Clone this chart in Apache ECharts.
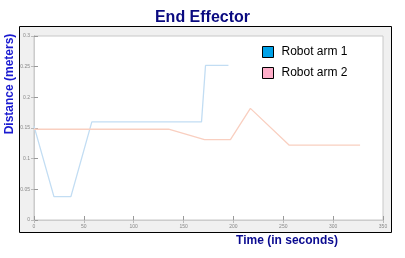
<!DOCTYPE html>
<html><head><meta charset="utf-8">
<script src="https://cdn.jsdelivr.net/npm/echarts@6/dist/echarts.min.js"></script>
<style>html,body{margin:0;padding:0;background:#fff}#c{width:405px;height:258px}</style>
</head><body><div id="c"></div>
<script>
const seriesNames = ['Robot arm 1', 'Robot arm 2'];
const arm1Time = [0, 20, 37, 58, 168, 172, 195];
const arm1Dist = [0.153, 0.038, 0.038, 0.160, 0.160, 0.252, 0.252];
const arm2Time = [0, 135, 171, 197, 217, 256, 327];
const arm2Dist = [0.148, 0.148, 0.131, 0.131, 0.182, 0.122, 0.122];
const xTicks = [0, 50, 100, 150, 200, 250, 300, 350];
const yTicks = [0, 0.05, 0.1, 0.15, 0.2, 0.25, 0.3];

const pairs = (xs, ys) => xs.map((x, i) => [x, ys[i]]);
const chart = echarts.init(document.getElementById('c'), null, {renderer: 'canvas'});
const font = 'Liberation Sans, Arial, sans-serif';
const tickLab = {fontSize: 5, color: '#888', fontFamily: font};
chart.setOption({
  animation: false,
  backgroundColor: '#fff',
  title: {text: 'End Effector', left: 'center', top: 5,
    textStyle: {fontSize: 16, fontWeight: 'bold', color: '#0a0a80', fontFamily: font}},
  graphic: [
    {type: 'rect', z: -10, shape: {x: 19.5, y: 26.5, width: 372, height: 206},
      style: {fill: '#f0f0f0', stroke: '#000', lineWidth: 1}},
    {type: 'text', x: 10, y: 84, rotation: Math.PI / 2,
      style: {text: 'Distance (meters)', fill: '#1a1ad0', font: 'bold 12px ' + font,
        align: 'center', verticalAlign: 'middle'}},
    {type: 'text', x: 287, y: 241,
      style: {text: 'Time (in seconds)', fill: '#0a0a90', font: 'bold 12px ' + font,
        align: 'center', verticalAlign: 'middle'}}
  ],
  legend: {
    orient: 'vertical', left: 262, top: 46, padding: 0, itemGap: 9, itemWidth: 11, itemHeight: 11,
    icon: 'rect',
    textStyle: {fontSize: 12, color: '#000', fontFamily: font, padding: [0, 0, 0, 3]},
    data: [
      {name: seriesNames[0], itemStyle: {color: '#00a2e8', borderColor: '#000', borderWidth: 1}},
      {name: seriesNames[1], itemStyle: {color: '#ffaec9', borderColor: '#000', borderWidth: 1}}
    ]
  },
  grid: {left: 34, right: 22, top: 36, bottom: 38, show: true, backgroundColor: '#fff',
    borderColor: '#c8c8c8', borderWidth: 1},
  xAxis: [
    {type: 'value', min: 0, max: 350, interval: 50,
      axisLine: {show: true, lineStyle: {color: '#999'}},
      axisTick: {show: true, inside: true, length: 4, lineStyle: {color: '#999'}},
      axisLabel: Object.assign({margin: 4, customValues: xTicks}, tickLab),
      splitLine: {show: false}},
    {type: 'value', position: 'top', min: 0, max: 350, interval: 50,
      axisLine: {show: true, lineStyle: {color: '#ccc'}},
      axisTick: {show: true, inside: true, length: 3, lineStyle: {color: '#bbb'}},
      axisLabel: {show: false}, splitLine: {show: false}}
  ],
  yAxis: [
    {type: 'value', min: 0, max: 0.3, interval: 0.05,
      axisLine: {show: true, lineStyle: {color: '#999'}},
      axisTick: {show: true, inside: true, length: 4, lineStyle: {color: '#999'}},
      axisLabel: Object.assign({margin: 4}, tickLab),
      splitLine: {show: false}},
    {type: 'value', position: 'right', min: 0, max: 0.3, interval: 0.05,
      axisLine: {show: true, lineStyle: {color: '#ccc'}},
      axisTick: {show: true, inside: true, length: 3, lineStyle: {color: '#bbb'}},
      axisLabel: {show: false}, splitLine: {show: false}}
  ],
  series: [
    {name: seriesNames[0], type: 'line', data: pairs(arm1Time, arm1Dist), showSymbol: false,
      itemStyle: {color: '#00a2e8'}, lineStyle: {color: '#c2ddf3', width: 1.3}},
    {name: seriesNames[1], type: 'line', data: pairs(arm2Time, arm2Dist), showSymbol: false,
      itemStyle: {color: '#ffaec9'}, lineStyle: {color: '#f9cfc0', width: 1.3}}
  ]
});
</script></body></html>
